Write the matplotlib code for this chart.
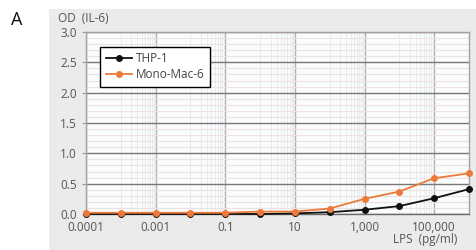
import matplotlib
matplotlib.use("Agg")
import matplotlib.pyplot as plt
from matplotlib.ticker import FixedLocator, FixedFormatter, MultipleLocator

# x positions are one decade apart; labels follow the original figure
lps = [1e-5, 1e-4, 1e-3, 1e-2, 1e-1, 1, 10, 100, 1e3, 1e4, 1e5, 1e6]
thp1 = [0.0, 0.0, 0.0, 0.0, 0.0, 0.0, 0.01, 0.03, 0.07, 0.13, 0.26, 0.41]
monomac6 = [0.02, 0.02, 0.02, 0.02, 0.02, 0.04, 0.04, 0.09, 0.25, 0.37, 0.59, 0.67]

xtick_pos = [1e-5, 1e-3, 1e-1, 10, 1e3, 1e5]
xtick_labels = ["0.0001", "0.001", "0.1", "10", "1,000", "100,000"]
xminor_pos = [m * 10 ** e for e in (-4, -2, 0, 2, 4) for m in range(1, 10)] + [1e6]

plt.rcParams['font.family'] = ['Open Sans', 'DejaVu Sans']

fig = plt.figure(figsize=(4.77, 2.5), dpi=100)
fig.patch.set_facecolor("white")

# grey panel behind the chart
bg = fig.add_axes([49 / 477, 0, 1 - 49 / 477, 1 - 9 / 250], zorder=0)
bg.set_facecolor("#ebebeb")
bg.set_xticks([])
bg.set_yticks([])
for s in bg.spines.values():
    s.set_visible(False)

ax = fig.add_axes([86 / 477, 1 - 214 / 250, (469 - 86) / 477, (214 - 32) / 250], zorder=1)
ax.set_facecolor("#fbfcfd")

ax.set_xscale("log")
ax.set_xlim(1e-5, 1e6)
ax.set_ylim(0, 3.0)

ax.xaxis.set_major_locator(FixedLocator(xtick_pos))
ax.xaxis.set_major_formatter(FixedFormatter(xtick_labels))
ax.xaxis.set_minor_locator(FixedLocator(xminor_pos))
ax.xaxis.set_minor_formatter(FixedFormatter([""] * len(xminor_pos)))
ax.yaxis.set_major_locator(MultipleLocator(0.5))
ax.yaxis.set_minor_locator(MultipleLocator(0.1))

ax.grid(True, which="major", axis="y", color="#777777", linewidth=1.0)
ax.grid(True, which="minor", axis="y", color="#ece2e2", linewidth=0.8)
ax.grid(True, which="major", axis="x", color="#b8b0b0", linewidth=1.0)
ax.grid(True, which="minor", axis="x", color="#e6e9ed", linewidth=0.6)
ax.set_axisbelow(True)

for s in ax.spines.values():
    s.set_color("#a8a0a0")
    s.set_linewidth(1.0)
ax.spines["bottom"].set_color("#6a6a6a")

ax.tick_params(axis="both", which="major", labelsize=8.5, colors="#555555",
               length=3, width=0.8, pad=3.5)
ax.tick_params(axis="x", which="major", length=0, pad=5)
ax.tick_params(axis="both", which="minor", length=0)
ax.tick_params(axis="y", color="#999999")

ax.plot(lps, thp1, color="#111111", marker="o", markersize=4, linewidth=1.3,
        label="THP-1", clip_on=False, zorder=3)
ax.plot(lps, monomac6, color="#ec7a3a", marker="o", markersize=4, linewidth=1.3,
        label="Mono-Mac-6", clip_on=False, zorder=4)

leg = ax.legend(loc="upper left", bbox_to_anchor=(0.037, 0.92), fontsize=8.5,
                frameon=True, fancybox=False, handlelength=2.2, borderpad=0.5,
                labelspacing=0.2, handletextpad=0.3, borderaxespad=0)
leg.get_frame().set_edgecolor("black")
leg.get_frame().set_linewidth(1.0)
leg.get_frame().set_alpha(1)
for t in leg.get_texts():
    t.set_color("#444444")

fig.text(58 / 477, 1 - 19 / 250, "OD  (IL-6)", fontsize=8.5, color="#555555",
         ha="left", va="center", zorder=2)
fig.text(457 / 477, 1 - 239 / 250, "LPS  (pg/ml)", fontsize=8.5, color="#555555",
         ha="right", va="center", zorder=2)
fig.text(11 / 477, 1 - 20 / 250, "A", fontsize=13, color="#111111",
         ha="left", va="center")

fig.savefig("out.png", dpi=100)
